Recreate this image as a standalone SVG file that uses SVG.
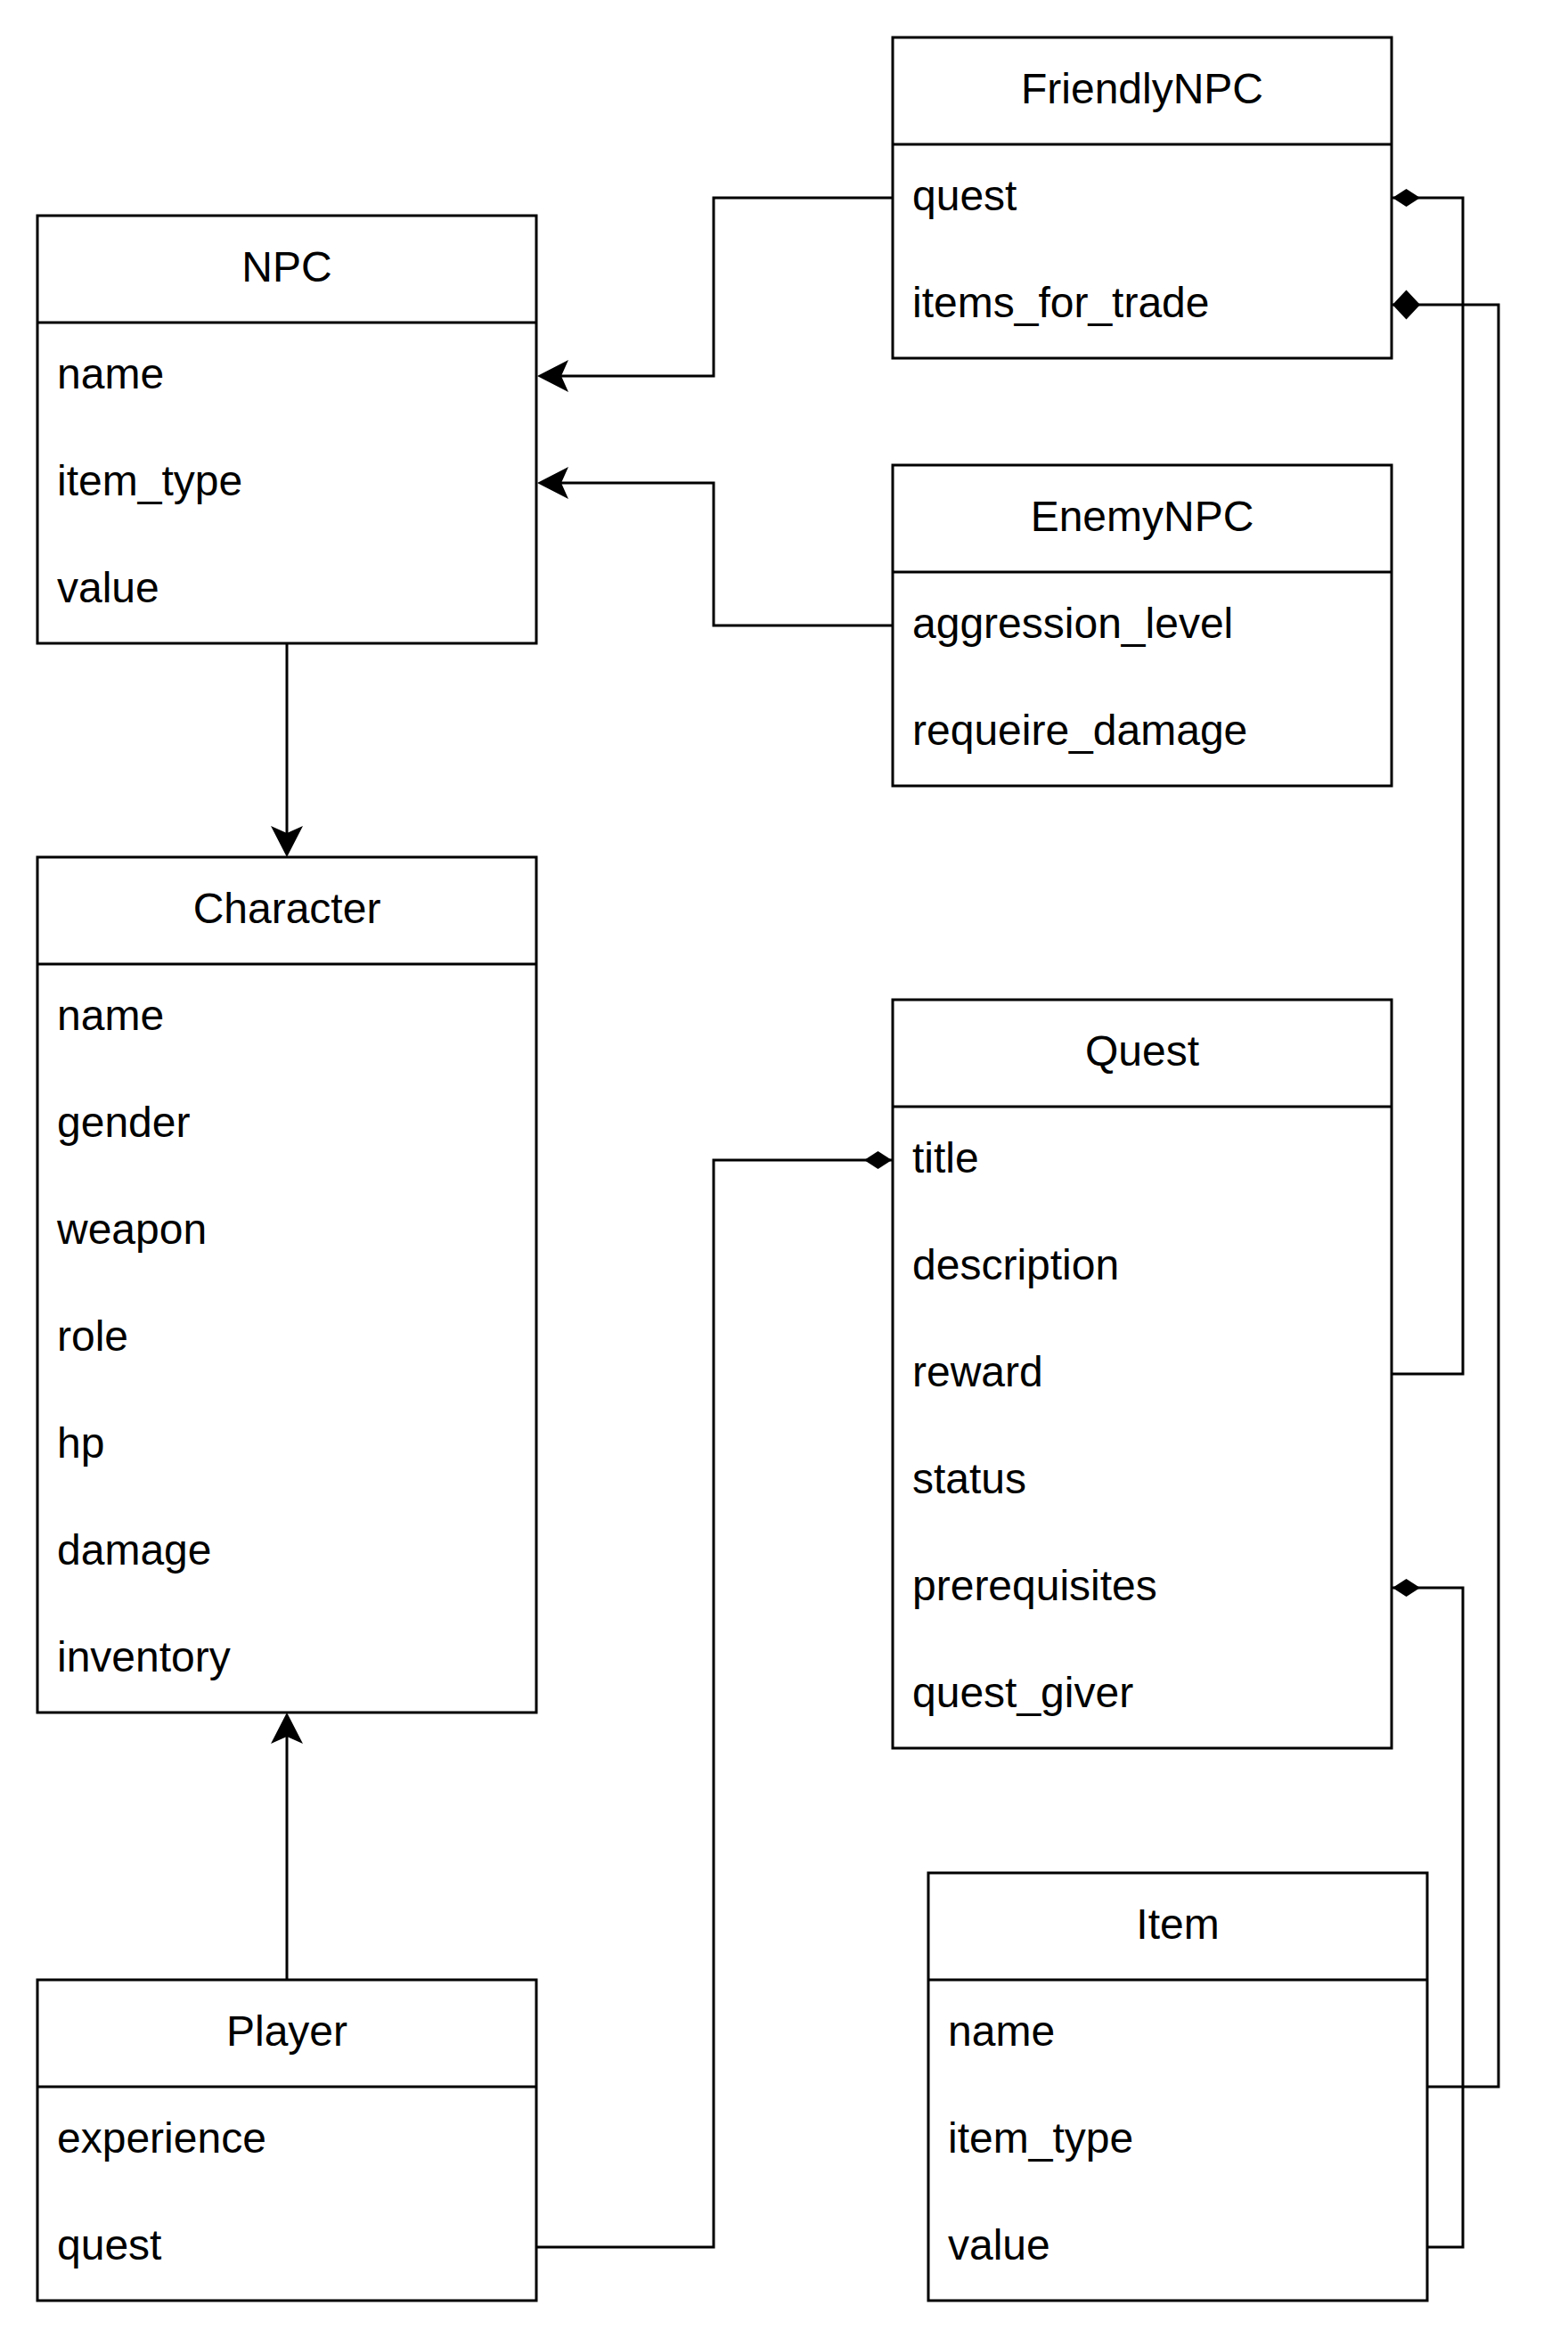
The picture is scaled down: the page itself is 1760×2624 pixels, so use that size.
<svg xmlns="http://www.w3.org/2000/svg" width="1760" height="2624" viewBox="0 0 1760 2624">
<style>
.box{fill:#fff;stroke:#000;stroke-width:3}
.sep{stroke:#000;stroke-width:3}
.hd{font-family:"Liberation Sans",Arial,sans-serif;font-size:48px;fill:#000;text-anchor:middle}
.at{font-family:"Liberation Sans",Arial,sans-serif;font-size:48px;fill:#000}
.edge{fill:none;stroke:#000;stroke-width:3}
</style>
<defs>
<marker id="arrow" markerUnits="userSpaceOnUse" viewBox="-10 -20 40 40" refX="0" refY="0" markerWidth="40" markerHeight="40" orient="auto" overflow="visible">
<path d="M27,0 L-8,-18 L0,0 L-8,18 Z" fill="#000"/>
</marker>
<marker id="dthin" markerUnits="userSpaceOnUse" viewBox="-34 -12 36 24" refX="0" refY="0" markerWidth="36" markerHeight="24" orient="auto" overflow="visible">
<path d="M0,0 L-15.5,-10 L-31,0 L-15.5,10 Z" fill="#000"/>
</marker>
<marker id="dfull" markerUnits="userSpaceOnUse" viewBox="-34 -18 36 36" refX="0" refY="0" markerWidth="36" markerHeight="36" orient="auto" overflow="visible">
<path d="M0,0 L-15.5,-16.5 L-31,0 L-15.5,16.5 Z" fill="#000"/>
</marker>
</defs>

<g id="connectors">
<path class="edge" d="M1002 222 H801 V422 H630" marker-end="url(#arrow)"/>
<path class="edge" d="M1002 702 H801 V542 H630" marker-end="url(#arrow)"/>
<path class="edge" d="M322 722 V935" marker-end="url(#arrow)"/>
<path class="edge" d="M322 2222 V1949" marker-end="url(#arrow)"/>
<path class="edge" d="M602 2522 H801 V1302 H1001" marker-end="url(#dthin)"/>
<path class="edge" d="M1562 1542 H1642 V222 H1563" marker-end="url(#dthin)"/>
<path class="edge" d="M1602 2342 H1682 V342 H1563" marker-end="url(#dfull)"/>
<path class="edge" d="M1602 2522 H1642 V1782 H1563" marker-end="url(#dthin)"/>
</g>

<g id="FriendlyNPC">
<rect class="box" x="1002" y="42" width="560" height="360"/>
<line class="sep" x1="1002" y1="162" x2="1562" y2="162"/>
<text class="hd" x="1282" y="116">FriendlyNPC</text>
<text class="at" x="1024" y="236">quest</text>
<text class="at" x="1024" y="356">items_for_trade</text>
</g>

<g id="NPC">
<rect class="box" x="42" y="242" width="560" height="480"/>
<line class="sep" x1="42" y1="362" x2="602" y2="362"/>
<text class="hd" x="322" y="316">NPC</text>
<text class="at" x="64" y="436">name</text>
<text class="at" x="64" y="556">item_type</text>
<text class="at" x="64" y="676">value</text>
</g>

<g id="EnemyNPC">
<rect class="box" x="1002" y="522" width="560" height="360"/>
<line class="sep" x1="1002" y1="642" x2="1562" y2="642"/>
<text class="hd" x="1282" y="596">EnemyNPC</text>
<text class="at" x="1024" y="716">aggression_level</text>
<text class="at" x="1024" y="836">requeire_damage</text>
</g>

<g id="Character">
<rect class="box" x="42" y="962" width="560" height="960"/>
<line class="sep" x1="42" y1="1082" x2="602" y2="1082"/>
<text class="hd" x="322" y="1036">Character</text>
<text class="at" x="64" y="1156">name</text>
<text class="at" x="64" y="1276">gender</text>
<text class="at" x="64" y="1396">weapon</text>
<text class="at" x="64" y="1516">role</text>
<text class="at" x="64" y="1636">hp</text>
<text class="at" x="64" y="1756">damage</text>
<text class="at" x="64" y="1876">inventory</text>
</g>

<g id="Quest">
<rect class="box" x="1002" y="1122" width="560" height="840"/>
<line class="sep" x1="1002" y1="1242" x2="1562" y2="1242"/>
<text class="hd" x="1282" y="1196">Quest</text>
<text class="at" x="1024" y="1316">title</text>
<text class="at" x="1024" y="1436">description</text>
<text class="at" x="1024" y="1556">reward</text>
<text class="at" x="1024" y="1676">status</text>
<text class="at" x="1024" y="1796">prerequisites</text>
<text class="at" x="1024" y="1916">quest_giver</text>
</g>

<g id="Item">
<rect class="box" x="1042" y="2102" width="560" height="480"/>
<line class="sep" x1="1042" y1="2222" x2="1602" y2="2222"/>
<text class="hd" x="1322" y="2176">Item</text>
<text class="at" x="1064" y="2296">name</text>
<text class="at" x="1064" y="2416">item_type</text>
<text class="at" x="1064" y="2536">value</text>
</g>

<g id="Player">
<rect class="box" x="42" y="2222" width="560" height="360"/>
<line class="sep" x1="42" y1="2342" x2="602" y2="2342"/>
<text class="hd" x="322" y="2296">Player</text>
<text class="at" x="64" y="2416">experience</text>
<text class="at" x="64" y="2536">quest</text>
</g>
</svg>
